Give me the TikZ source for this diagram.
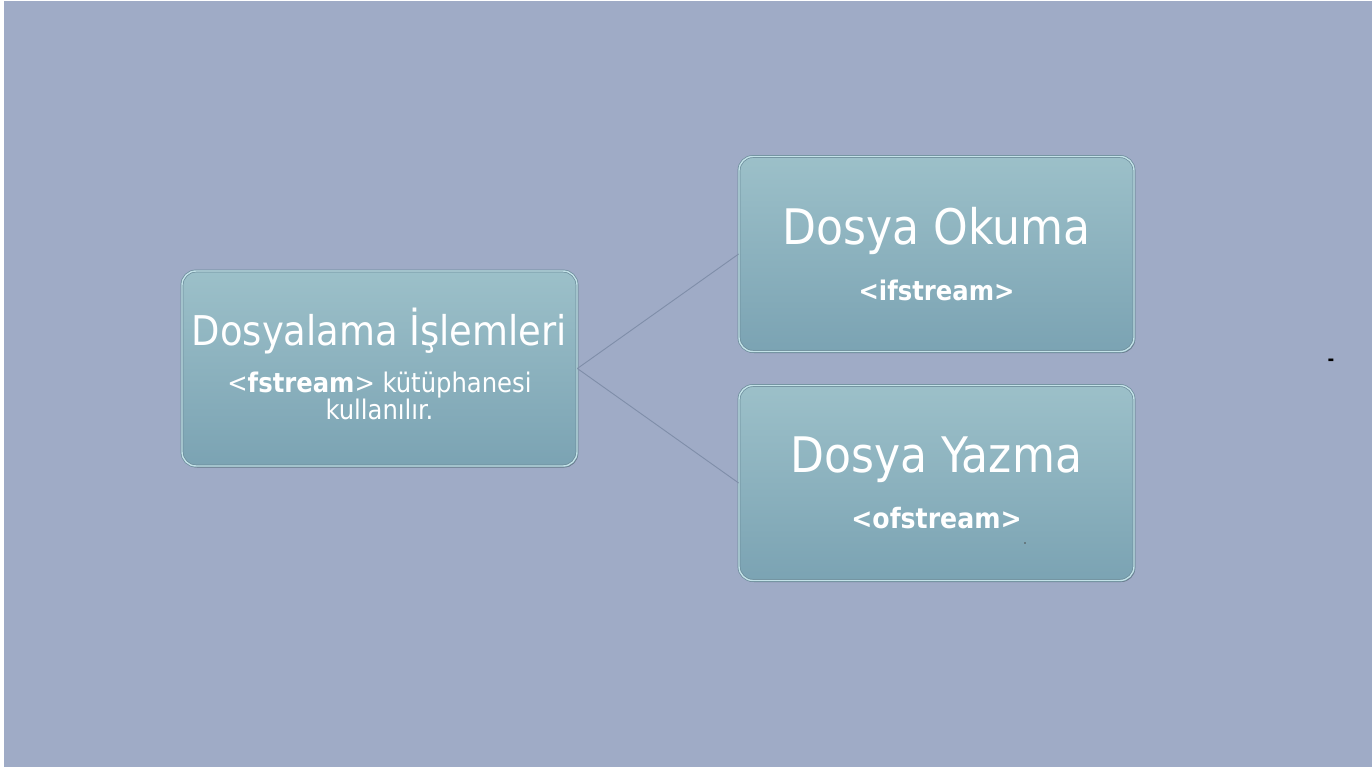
\documentclass[tikz,border=0pt]{standalone}
\usepackage{fontspec}
\setmainfont{DejaVu Sans Condensed}
\usetikzlibrary{shadows}
\definecolor{bg}{HTML}{9FABC6}
\definecolor{boxtop}{HTML}{9CC0C9}
\definecolor{boxbot}{HTML}{7BA3B3}
\definecolor{boxedge}{HTML}{C3E2E8}
\definecolor{boxdark}{HTML}{6A8B99}
\definecolor{linkcol}{HTML}{7F8EA9}
\tikzset{
  box/.style={rectangle, rounded corners=14pt, minimum width=395pt, minimum height=195pt,
    top color=boxtop, bottom color=boxbot, draw=boxdark, line width=0.7pt,
    double=boxedge, double distance=1.4pt,
    text=white, align=center, inner sep=2pt,
    drop shadow={shadow xshift=1.2pt, shadow yshift=-1.5pt, fill=black, opacity=0.3}},
  boxtext/.style={text=white, align=center, inner sep=2pt},
  link/.style={draw=linkcol, line width=0.9pt},
}
\begin{document}
\begin{tikzpicture}[x=1pt,y=-1pt]
\fill[white] (0,0) rectangle (1372,767);
\fill[bg] (4,1.5) rectangle (1372,767);
\useasboundingbox (0,0) rectangle (1372,767);

\node[box] (main) at (379.5,368.5) {};
\node[boxtext] (maintext) at (379.5,364)
  {{\fontsize{41}{45}\selectfont Dosyalama İşlemleri}\\[17pt]
   {\fontsize{27}{28}\selectfont <\textbf{fstream}> kütüphanesi}\\
   {\fontsize{27}{28}\selectfont kullanılır.}};

\node[box] (read) at (936.5,254)
  {{\fontsize{49}{52}\selectfont Dosya Okuma}\\[24pt]
   {\fontsize{27}{30}\selectfont\bfseries <ifstream>}};

\node[box] (write) at (936.5,483)
  {{\fontsize{49}{52}\selectfont Dosya Yazma}\\[24pt]
   {\fontsize{28}{30}\selectfont\bfseries <ofstream>}};

\draw[link] (main.east) -- (read.west);
\draw[link] (main.east) -- (write.west);

\node[font=\bfseries\fontsize{18}{20}\selectfont, text=black, inner sep=0pt] (dash) at (1331,362) {-};
\fill[black!70] (1025,543) circle (0.9pt);
\end{tikzpicture}
\end{document}
